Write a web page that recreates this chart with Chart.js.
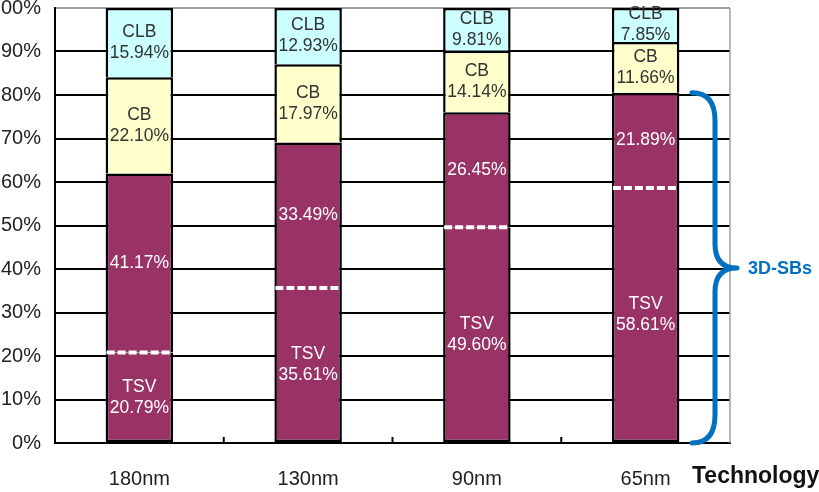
<!DOCTYPE html>
<html>
<head>
<meta charset="utf-8">
<script src="https://cdn.jsdelivr.net/npm/chart.js@4"></script>
<style>
  html, body { margin: 0; padding: 0; background: #fff; overflow: hidden; }
  #wrap { width: 819px; height: 492px; }
</style>
</head>
<body>
<div id="wrap"><canvas id="bar-chart" width="819" height="492"></canvas></div>
<script>
const categories = ['180nm', '130nm', '90nm', '65nm'];
const tsv = [20.79, 35.61, 49.60, 58.61];
const sb = [41.17, 33.49, 26.45, 21.89];
const cb = [22.10, 17.97, 14.14, 11.66];
const clb = [15.94, 12.93, 9.81, 7.85];
const yTicks = [0, 10, 20, 30, 40, 50, 60, 70, 80, 90, 100];

const PURPLE = '#993366';
const BLUE = '#0070C0';
const FONT = '"Liberation Sans", Arial, sans-serif';

// text written inside each segment
const segLabels = {
  TSV: v => ['TSV', v.toFixed(2) + '%'],
  SB: v => [v.toFixed(2) + '%'],
  CB: v => ['CB', v.toFixed(2) + '%'],
  CLB: v => ['CLB', v.toFixed(2) + '%']
};

const barDecor = {
  id: 'barDecor',
  beforeDatasetsDraw(chart) {
    const { ctx, chartArea, scales } = chart;
    // gray right border
    ctx.save();
    ctx.strokeStyle = '#a0a0a0';
    ctx.lineWidth = 1.5;
    ctx.beginPath();
    ctx.moveTo(chartArea.right, chartArea.top);
    ctx.lineTo(chartArea.right, chartArea.bottom);
    ctx.stroke();
    // small ticks between categories
    ctx.strokeStyle = '#000';
    ctx.lineWidth = 2;
    for (let i = 0; i < categories.length - 1; i++) {
      const x = (scales.x.getPixelForValue(i) + scales.x.getPixelForValue(i + 1)) / 2;
      ctx.beginPath();
      ctx.moveTo(x, chartArea.bottom);
      ctx.lineTo(x, chartArea.bottom - 6);
      ctx.stroke();
    }
    ctx.restore();
  },
  afterDatasetsDraw(chart) {
    const { ctx, chartArea, scales } = chart;
    ctx.save();
    // white dashed line on top of TSV part
    const tsvMeta = chart.getDatasetMeta(0);
    ctx.strokeStyle = '#fff';
    ctx.lineWidth = 4;
    ctx.setLineDash([8, 3]);
    tsvMeta.data.forEach(el => {
      ctx.beginPath();
      ctx.moveTo(el.x - el.width / 2 + 1, el.y);
      ctx.lineTo(el.x + el.width / 2 - 1, el.y);
      ctx.stroke();
    });
    ctx.setLineDash([]);

    // segment labels
    ctx.font = '17.5px ' + FONT;
    ctx.textAlign = 'center';
    ctx.textBaseline = 'middle';
    chart.data.datasets.forEach((ds, di) => {
      const meta = chart.getDatasetMeta(di);
      meta.data.forEach((el, i) => {
        const lines = segLabels[ds.label](ds.data[i]);
        const cy = (el.y + el.base) / 2;
        ctx.fillStyle = ds.textColor;
        const lh = 21;
        lines.forEach((t, k) => {
          ctx.fillText(t, el.x, cy + (k - (lines.length - 1) / 2) * lh);
        });
      });
    });

    // curly brace for the 3D-SBs part of the last bar
    const last = categories.length - 1;
    const top = scales.y.getPixelForValue(tsv[last] + sb[last]);
    const bot = scales.y.getPixelForValue(0);
    const mid = (top + bot) / 2;
    const x0 = chartArea.right - 38;
    const x1 = chartArea.right - 15;
    const tip = chartArea.right + 7;
    ctx.strokeStyle = BLUE;
    ctx.lineWidth = 5;
    ctx.lineCap = 'round';
    ctx.lineJoin = 'round';
    ctx.beginPath();
    ctx.moveTo(x0, top);
    ctx.quadraticCurveTo(x1, top, x1, top + 28);
    ctx.lineTo(x1, mid - 24);
    ctx.quadraticCurveTo(x1, mid, tip, mid);
    ctx.quadraticCurveTo(x1, mid, x1, mid + 24);
    ctx.lineTo(x1, bot - 28);
    ctx.quadraticCurveTo(x1, bot, x0, bot);
    ctx.stroke();

    ctx.fillStyle = BLUE;
    ctx.font = 'bold 18px ' + FONT;
    ctx.textAlign = 'left';
    ctx.fillText('3D-SBs', tip + 11, mid + 1);

    // axis name
    ctx.fillStyle = '#111';
    ctx.font = 'bold 23px ' + FONT;
    ctx.textBaseline = 'alphabetic';
    ctx.fillText('Technology', chartArea.right - 38, chartArea.bottom + 40);
    ctx.restore();
  }
};

const ctx = document.getElementById('bar-chart');

new Chart(ctx, {
  type: 'bar',
  data: {
    labels: categories,
    datasets: [
      {
        label: 'TSV', data: tsv, backgroundColor: PURPLE, textColor: '#fff',
        borderColor: '#000', borderWidth: { left: 2.5, right: 2.5, bottom: 2.5, top: 0 }
      },
      {
        label: 'SB', data: sb, backgroundColor: PURPLE, textColor: '#fff',
        borderColor: '#000', borderWidth: { left: 2.5, right: 2.5, top: 2.5, bottom: 0 }
      },
      {
        label: 'CB', data: cb, backgroundColor: '#FFFFCC', textColor: '#333',
        borderColor: '#000', borderWidth: { left: 2.5, right: 2.5, top: 2.5, bottom: 0 }
      },
      {
        label: 'CLB', data: clb, backgroundColor: '#CCFFFF', textColor: '#333',
        borderColor: '#000', borderWidth: { left: 2.5, right: 2.5, top: 2.5, bottom: 0 }
      }
    ]
  },
  options: {
    responsive: false,
    animation: false,
    devicePixelRatio: 1,
    datasets: {
      bar: { barPercentage: 0.4, categoryPercentage: 1, borderSkipped: false }
    },
    plugins: {
      legend: { display: false },
      tooltip: { enabled: false }
    },
    layout: {
      autoPadding: false,
      padding: { top: 8, right: 89, bottom: 0, left: 0 }
    },
    scales: {
      x: {
        stacked: true,
        afterFit(scale) {
          scale.height = 49;
          scale.paddingLeft = scale.paddingRight = scale.paddingTop = scale.paddingBottom = 0;
        },
        grid: { display: false, drawTicks: false },
        border: { display: true, color: '#000', width: 2 },
        ticks: { color: '#222', padding: 24, font: { family: FONT, size: 20 } }
      },
      y: {
        stacked: true,
        min: 0,
        max: 100,
        afterFit(scale) {
          scale.width = 55;
          scale.paddingLeft = scale.paddingRight = scale.paddingTop = scale.paddingBottom = 0;
        },
        afterBuildTicks(scale) { scale.ticks = yTicks.map(v => ({ value: v })); },
        grid: {
          drawTicks: false,
          lineWidth: 2,
          color: c => (c.tick && c.tick.value === 100 ? '#a0a0a0' : '#000')
        },
        border: { display: true, color: '#000', width: 2 },
        ticks: {
          color: '#222',
          padding: 14,
          font: { family: FONT, size: 20 },
          callback: v => v + '%'
        }
      }
    }
  },
  plugins: [barDecor]
});
</script>
</body>
</html>
